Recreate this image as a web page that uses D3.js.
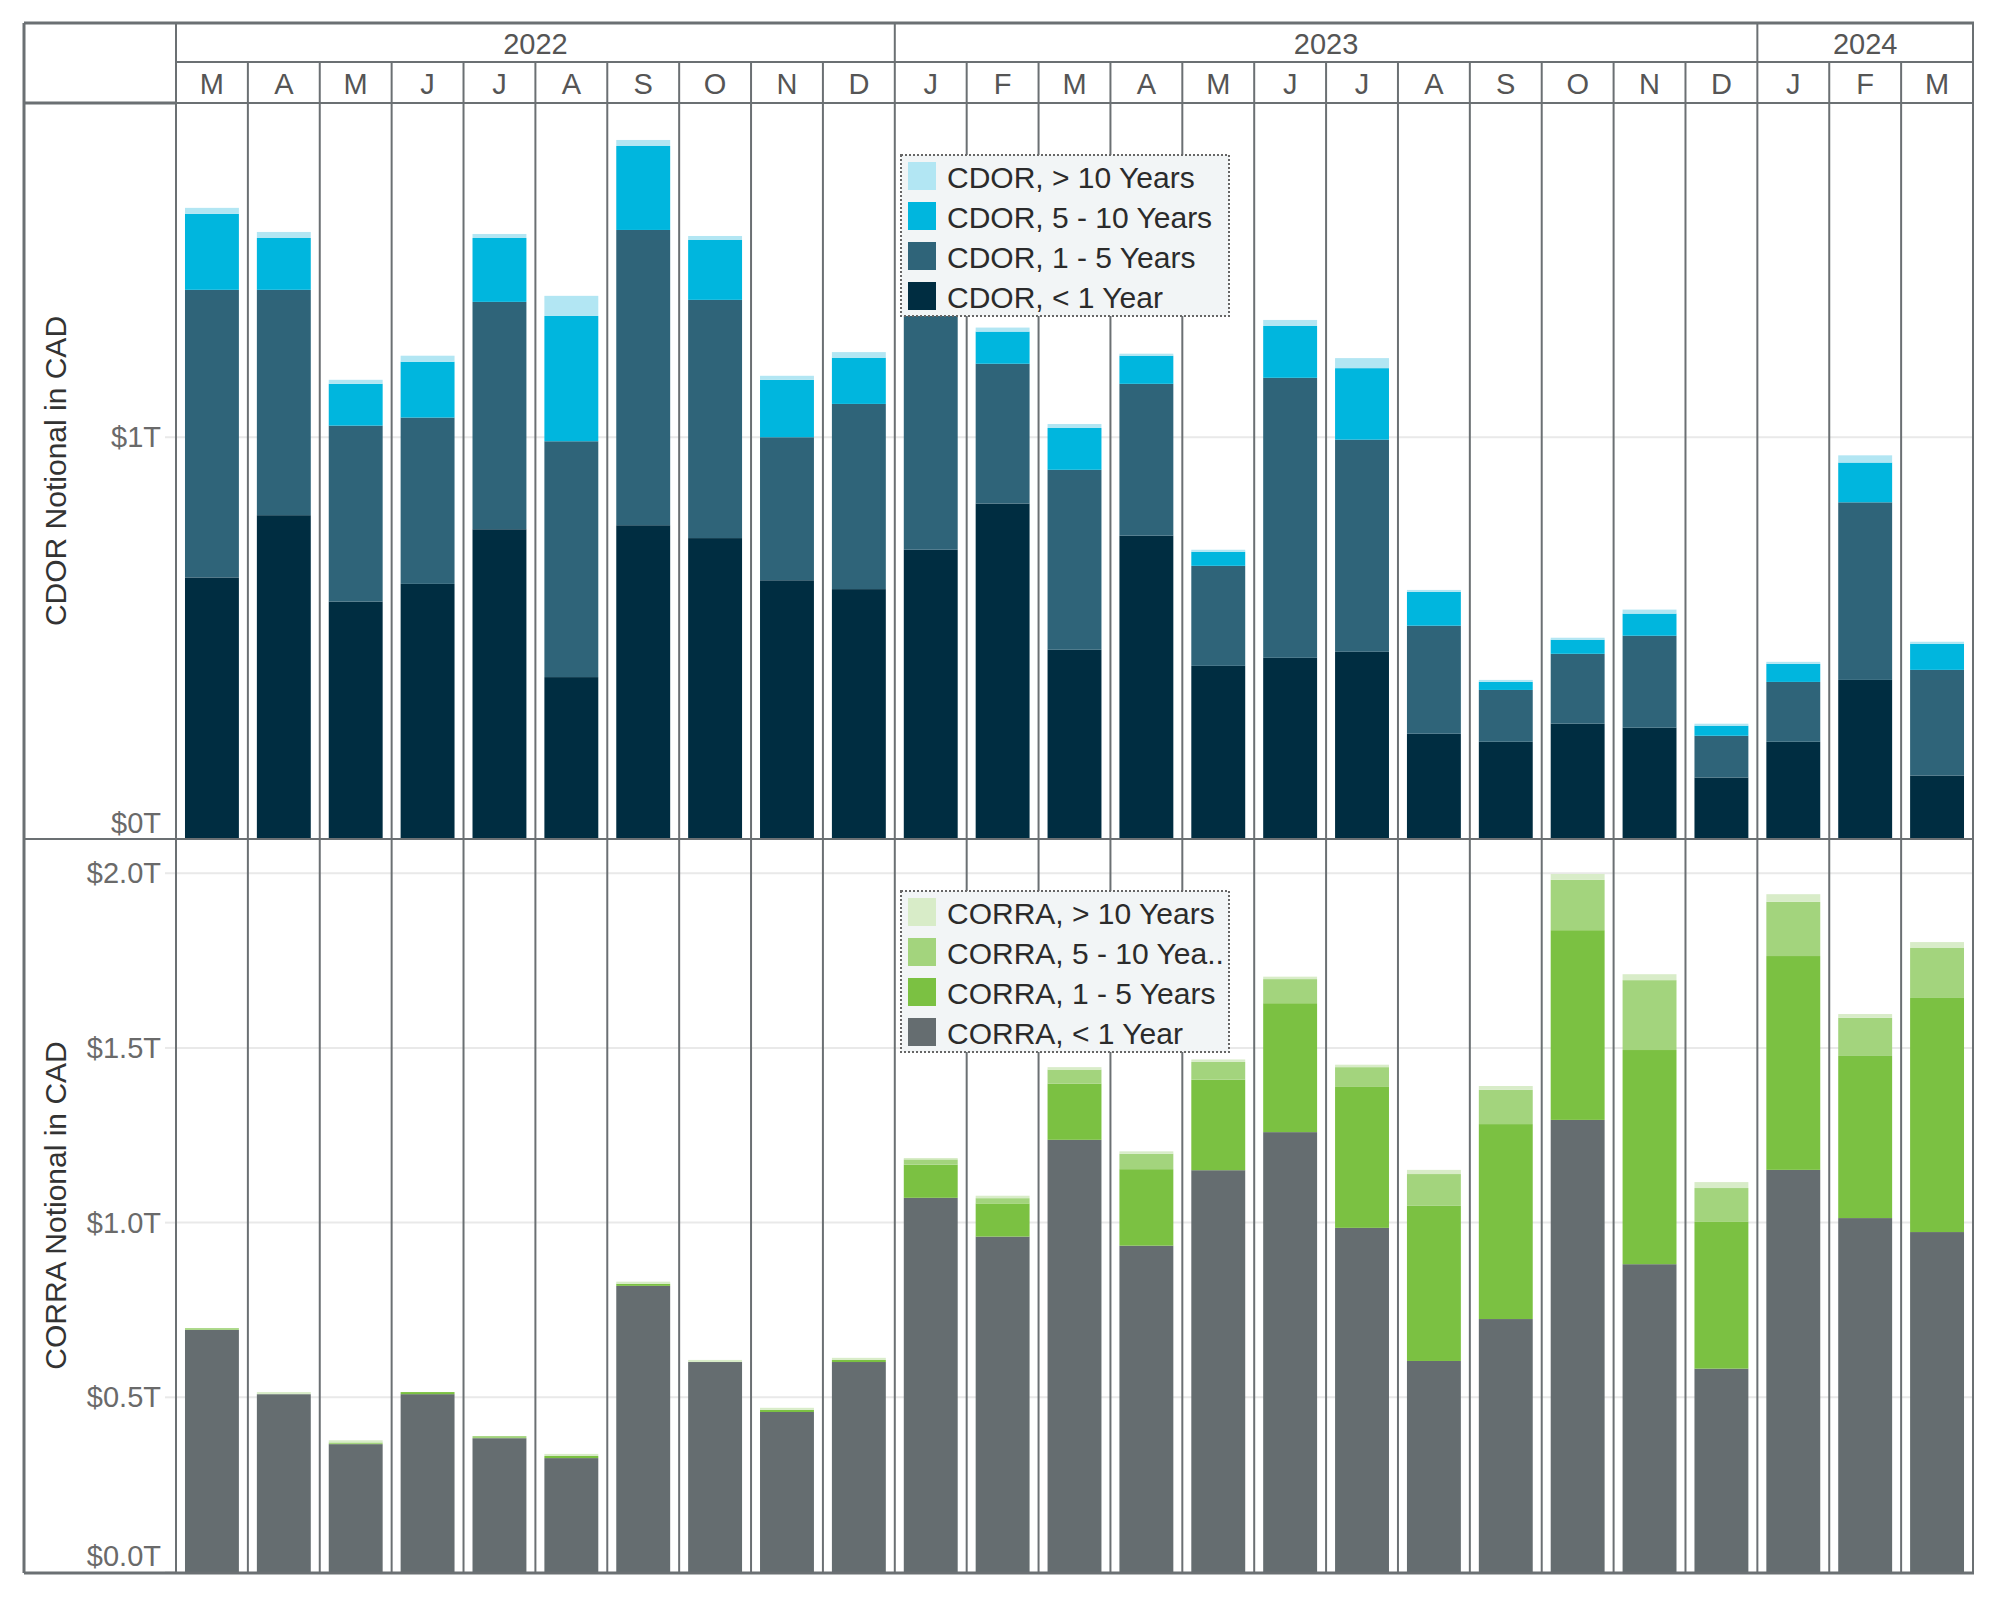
<!DOCTYPE html>
<html>
<head>
<meta charset="utf-8">
<script src="https://cdn.jsdelivr.net/npm/d3@7"></script>
<style>
html,body{margin:0;padding:0;background:#fff;}
svg{display:block;font-family:"Liberation Sans",Arial,Helvetica,sans-serif;}
</style>
</head>
<body>
<svg id="chart" width="2000" height="1600"></svg>
<script>
// ---------------- DATA ----------------
const monthLabels = ["M","A","M","J","J","A","S","O","N","D","J","F","M","A","M","J","J","A","S","O","N","D","J","F","M"];
const monthYears  = ["2022","2022","2022","2022","2022","2022","2022","2022","2022","2022",
                     "2023","2023","2023","2023","2023","2023","2023","2023","2023","2023","2023","2023",
                     "2024","2024","2024"];
const yearLabels = ["2022","2023","2024"];

// CDOR notional (trillions CAD)
const cdorLt1   = [0.651,0.806,0.591,0.635,0.771,0.403,0.781,0.749,0.644,0.622,0.720,0.835,0.471,0.755,0.431,0.451,0.466,0.262,0.242,0.287,0.277,0.153,0.242,0.396,0.158];
const cdor1to5  = [0.716,0.561,0.438,0.414,0.566,0.587,0.735,0.593,0.356,0.461,0.700,0.348,0.448,0.378,0.249,0.697,0.528,0.269,0.129,0.174,0.229,0.104,0.149,0.442,0.263];
const cdor5to10 = [0.189,0.129,0.104,0.139,0.159,0.312,0.209,0.149,0.143,0.115,0.150,0.080,0.104,0.070,0.035,0.129,0.178,0.084,0.020,0.035,0.055,0.025,0.045,0.099,0.065];
const cdorGt10  = [0.015,0.015,0.010,0.015,0.010,0.050,0.015,0.010,0.010,0.014,0.020,0.010,0.010,0.005,0.005,0.015,0.025,0.005,0.005,0.005,0.010,0.005,0.005,0.018,0.005];

// CORRA notional (trillions CAD)
const corraLt1   = [0.693,0.509,0.366,0.509,0.383,0.326,0.819,0.601,0.458,0.601,1.071,0.960,1.237,0.934,1.150,1.259,0.985,0.604,0.724,1.294,0.881,0.582,1.151,1.013,0.973];
const corra1to5  = [0.000,0.000,0.000,0.006,0.000,0.006,0.006,0.000,0.006,0.006,0.095,0.095,0.161,0.219,0.259,0.369,0.405,0.444,0.558,0.543,0.613,0.420,0.612,0.464,0.670];
const corra5to10 = [0.005,0.000,0.005,0.000,0.006,0.000,0.000,0.000,0.000,0.000,0.015,0.015,0.040,0.044,0.051,0.069,0.055,0.091,0.098,0.144,0.200,0.097,0.155,0.109,0.143];
const corraGt10  = [0.000,0.006,0.006,0.000,0.000,0.006,0.006,0.006,0.006,0.006,0.004,0.007,0.007,0.007,0.007,0.007,0.007,0.012,0.011,0.017,0.017,0.017,0.022,0.011,0.017];

const seriesKeys = ["lt1","y1to5","y5to10","gt10"];
const cdorLegendLabels  = ["CDOR, > 10 Years","CDOR, 5 - 10 Years","CDOR, 1 - 5 Years","CDOR, < 1 Year"];
const corraLegendLabels = ["CORRA, > 10 Years","CORRA, 5 - 10 Yea..","CORRA, 1 - 5 Years","CORRA, < 1 Year"];
const cdorColors  = ["#002d41","#2f6479","#00b6de","#b2e6f3"];   // lt1, 1-5, 5-10, >10
const corraColors = ["#656d70","#7bc142","#a3d47d","#d8ecc8"];

const cdorTicks  = [0, 1];
const corraTicks = [0, 0.5, 1, 1.5, 2];
const cdorAxisTitle  = "CDOR Notional in CAD";
const corraAxisTitle = "CORRA Notional in CAD";

// ---------------- LAYOUT ----------------
const W = 2000, H = 1600;
const L = 24, R = 1973, T = 23, B = 1573;
const axisRight = 176;
const yearRowBottom = 62, monthRowBottom = 103;
const topPaneTop = 103, topPaneBottom = 839;
const botPaneTop = 839, botPaneBottom = 1572;
const lineColor = "#6b7073";
const gridColor = "#e9e9e9";
const FONT = 29;
const FONT_LG = 30;

const svg = d3.select("#chart");
svg.append("rect").attr("width", W).attr("height", H).attr("fill", "#fff");

const idx = d3.range(monthLabels.length);
const x = d3.scaleBand().domain(idx).range([axisRight, R]).paddingInner(0.25).paddingOuter(0.125);
const step = x.step();
const colLeft = i => axisRight + i * step;

const yTop = d3.scaleLinear().domain([0, 1.832]).range([topPaneBottom, topPaneTop]);
const yBot = d3.scaleLinear().domain([0, 2.098]).range([botPaneBottom, botPaneTop]);

// ---------------- GRIDLINES + TICKS ----------------
function drawGrid(scale, ticks, fmt, paneBottom) {
  const g = svg.append("g");
  ticks.forEach(t => {
    const yy = scale(t);
    if (t !== 0) {
      g.append("line").attr("x1", axisRight).attr("x2", R).attr("y1", yy).attr("y2", yy)
        .attr("stroke", gridColor).attr("stroke-width", 2);
    }
    g.append("line").attr("x1", 165).attr("x2", axisRight).attr("y1", yy).attr("y2", yy)
      .attr("stroke", gridColor).attr("stroke-width", 2);
    let ly = yy;
    if (t === 0) ly = paneBottom - 16;
    g.append("text").attr("x", 161).attr("y", ly).attr("text-anchor", "end")
      .attr("dominant-baseline", "central").attr("font-size", FONT).attr("fill", "#6a6a6a")
      .text(fmt(t));
  });
}
drawGrid(yTop, cdorTicks, t => "$" + d3.format(".0f")(t) + "T", topPaneBottom);
drawGrid(yBot, corraTicks, t => "$" + d3.format(".1f")(t) + "T", botPaneBottom);

// ---------------- BARS ----------------
function drawBars(rows, scale, colors) {
  const stack = d3.stack().keys(seriesKeys)(rows);
  const g = svg.append("g");
  stack.forEach((layer, k) => {
    g.append("g").attr("fill", colors[k]).selectAll("rect").data(layer).join("rect")
      .attr("x", d => x(d.data.i))
      .attr("width", x.bandwidth())
      .attr("y", d => scale(d[1]))
      .attr("height", d => Math.max(0, scale(d[0]) - scale(d[1])));
  });
}
const cdorRows = idx.map(i => ({i, lt1: cdorLt1[i], y1to5: cdor1to5[i], y5to10: cdor5to10[i], gt10: cdorGt10[i]}));
const corraRows = idx.map(i => ({i, lt1: corraLt1[i], y1to5: corra1to5[i], y5to10: corra5to10[i], gt10: corraGt10[i]}));
drawBars(cdorRows, yTop, cdorColors);
drawBars(corraRows, yBot, corraColors);

// ---------------- STRUCTURE LINES ----------------
const lines = svg.append("g").attr("stroke", lineColor).attr("fill", "none");
for (let i = 1; i < monthLabels.length; i++) {
  lines.append("line").attr("x1", colLeft(i)).attr("x2", colLeft(i)).attr("y1", yearRowBottom).attr("y2", B).attr("stroke-width", 2);
}
let acc = 0;
const yearStarts = [];
yearLabels.forEach(yl => {
  const n = monthYears.filter(m => m === yl).length;
  yearStarts.push({label: yl, start: acc, n});
  acc += n;
});
yearStarts.forEach((ys, k) => {
  if (k > 0) lines.append("line").attr("x1", colLeft(ys.start)).attr("x2", colLeft(ys.start)).attr("y1", T).attr("y2", yearRowBottom).attr("stroke-width", 2);
});
lines.append("line").attr("x1", L).attr("x2", R + 1).attr("y1", T).attr("y2", T).attr("stroke-width", 3);
lines.append("line").attr("x1", axisRight).attr("x2", R).attr("y1", yearRowBottom).attr("y2", yearRowBottom).attr("stroke-width", 2);
lines.append("line").attr("x1", L).attr("x2", axisRight).attr("y1", monthRowBottom).attr("y2", monthRowBottom).attr("stroke-width", 3);
lines.append("line").attr("x1", axisRight).attr("x2", R).attr("y1", monthRowBottom).attr("y2", monthRowBottom).attr("stroke-width", 2);
lines.append("line").attr("x1", L).attr("x2", R).attr("y1", topPaneBottom).attr("y2", topPaneBottom).attr("stroke-width", 2);
lines.append("line").attr("x1", L).attr("x2", R + 1).attr("y1", B).attr("y2", B).attr("stroke-width", 3);
lines.append("line").attr("x1", L).attr("x2", L).attr("y1", T).attr("y2", B).attr("stroke-width", 3);
lines.append("line").attr("x1", axisRight).attr("x2", axisRight).attr("y1", T).attr("y2", B).attr("stroke-width", 2);
lines.append("line").attr("x1", R).attr("x2", R).attr("y1", T).attr("y2", B).attr("stroke-width", 2);

// ---------------- HEADER TEXT ----------------
const hdr = svg.append("g").attr("font-size", FONT).attr("fill", "#555").attr("text-anchor", "middle").attr("dominant-baseline", "central");
yearStarts.forEach(ys => {
  hdr.append("text").attr("x", colLeft(ys.start) + ys.n * step / 2).attr("y", (T + yearRowBottom) / 2 + 1).text(ys.label);
});
monthLabels.forEach((m, i) => {
  hdr.append("text").attr("x", colLeft(i) + step / 2).attr("y", (yearRowBottom + monthRowBottom) / 2 + 1).text(m);
});

// ---------------- AXIS TITLES ----------------
function axisTitle(txt, cy) {
  svg.append("text").attr("transform", `translate(55,${cy}) rotate(-90)`)
    .attr("text-anchor", "middle").attr("dominant-baseline", "central")
    .attr("font-size", FONT_LG).attr("fill", "#333").text(txt);
}
axisTitle(cdorAxisTitle, (topPaneTop + topPaneBottom) / 2);
axisTitle(corraAxisTitle, (botPaneTop + botPaneBottom) / 2);

// ---------------- LEGENDS ----------------
function legend(x0, y0, labels, colors) {
  const g = svg.append("g").attr("transform", `translate(${x0},${y0})`);
  g.append("rect").attr("width", 328).attr("height", 161).attr("fill", "#f2f5f6")
    .attr("stroke", "#666").attr("stroke-width", 2).attr("stroke-dasharray", "2,2");
  labels.forEach((lab, k) => {
    const cy = 7 + k * 40;
    g.append("rect").attr("x", 7).attr("y", cy).attr("width", 28).attr("height", 28).attr("fill", colors[3 - k]);
    g.append("text").attr("x", 46).attr("y", cy + 15).attr("dominant-baseline", "central")
      .attr("font-size", FONT_LG).attr("fill", "#2b2b2b").text(lab);
  });
}
legend(901, 155, cdorLegendLabels, cdorColors);
legend(901, 891, corraLegendLabels, corraColors);
</script>
</body>
</html>
